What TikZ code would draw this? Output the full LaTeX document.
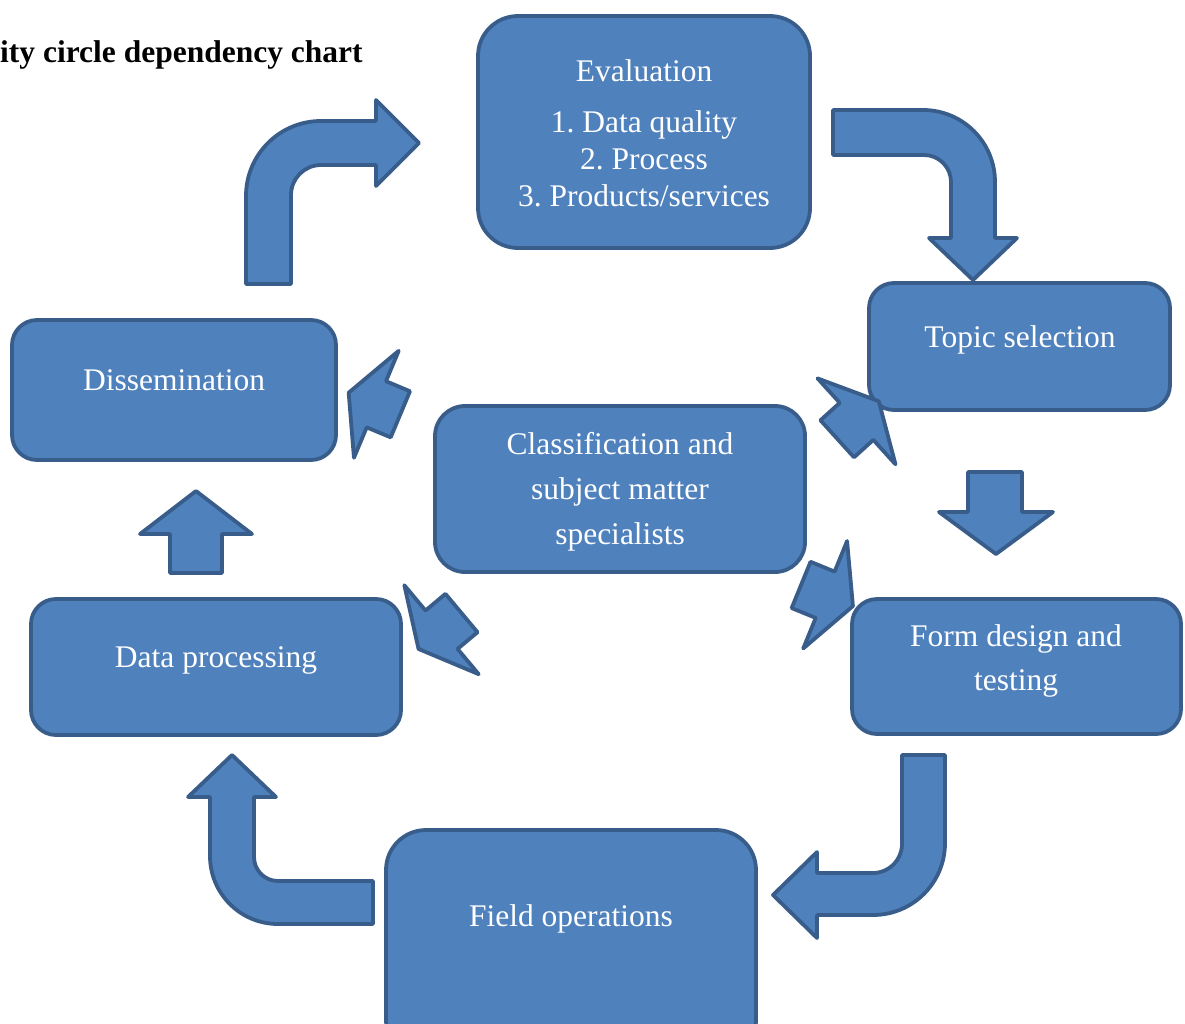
\documentclass[tikz,border=0pt]{standalone}
\usepackage{fontspec}
\setmainfont{Liberation Serif}
\frenchspacing
\definecolor{fillb}{HTML}{4F81BD}
\definecolor{edgeb}{HTML}{385D8A}
\newcommand\tiltarrow[4]{\draw[arr, shift={(#1,#2)}, rotate=#3] (-28,-25) -- (-2,-25) -- (-2,-58) -- (28,0) -- (-2,58) -- (-2,25) -- (-28,25) -- cycle;}
\begin{document}
\begin{tikzpicture}[x=1pt,y=-1pt,
  box/.style={draw=edgeb, fill=fillb, line width=3.8pt, rectangle, rounded corners=#1, inner sep=0pt},
  box/.default=25pt,
  arr/.style={draw=edgeb, fill=fillb, line width=3.8pt, line join=round},
  txt/.style={text=white, font=\fontsize{31.5}{37}\selectfont\frenchspacing, inner sep=0pt, anchor=base}]
\useasboundingbox (0,0) rectangle (1185,1023);
\clip (0,0) rectangle (1185,1023);
% title
\node[anchor=base west, inner sep=0pt, font=\fontsize{31.5}{37}\selectfont\bfseries] (title) at (0,62) {ity circle dependency chart};
% boxes
\node[box=40pt, minimum width=332pt, minimum height=232pt] (eval) at (644,132) {};
\node[box, minimum width=301pt, minimum height=127pt] (topic) at (1019.5,346.5) {};
\node[box, minimum width=324pt, minimum height=140pt] (diss) at (174,390) {};
\node[box=30pt, minimum width=370pt, minimum height=166pt] (class) at (620,489) {};
\node[box, minimum width=329pt, minimum height=135pt] (form) at (1016.5,666.5) {};
\node[box, minimum width=370pt, minimum height=136pt] (datap) at (216,667) {};
\node[box=40pt, minimum width=370pt, minimum height=230pt] (field) at (571,945) {};
% texts
\node[txt] (evalt) at (644,81) {Evaluation};
\node[txt] (evalt1) at (644,132) {1. Data quality};
\node[txt] (evalt2) at (644,169) {2. Process};
\node[txt] (evalt3) at (644,206) {3. Products/services};
\node[txt] (topict) at (1020,347) {Topic selection};
\node[txt] (disst) at (174,390) {Dissemination};
\node[txt] (classt1) at (620,454) {Classification and};
\node[txt] (classt2) at (620,499) {subject matter};
\node[txt] (classt3) at (620,544) {specialists};
\node[txt] (formt1) at (1016,646) {Form design and};
\node[txt] (formt2) at (1016,690) {testing};
\node[txt] (datapt) at (216,667) {Data processing};
\node[txt] (fieldt) at (571,926) {Field operations};
% bent arrows
\draw[arr] (246,284) -- (246,196) arc[start angle=180, end angle=270, radius=75] -- (376,121) -- (376,100) -- (419,143) -- (376,186) -- (376,165) -- (321,165) arc[start angle=270, end angle=180, radius=30] -- (291,284) -- cycle;
\draw[arr] (833,110) -- (923,110) arc[start angle=270, end angle=360, radius=72] -- (995,238) -- (1017,238) -- (973,280) -- (929,238) -- (951,238) -- (951,182) arc[start angle=0, end angle=-90, radius=27] -- (833,155) -- cycle;
\draw[arr] (902,755) -- (945,755) -- (945,843) arc[start angle=0, end angle=90, radius=72] -- (817,915) -- (817,938) -- (773,895) -- (817,852) -- (817,873) -- (873,873) arc[start angle=90, end angle=0, radius=29] -- cycle;
\draw[arr] (373,881) -- (373,924) -- (278,924) arc[start angle=90, end angle=180, radius=68] -- (210,797) -- (188,797) -- (232,755) -- (276,797) -- (254,797) -- (254,857) arc[start angle=180, end angle=90, radius=24] -- cycle;
% straight arrows
\draw[arr] (170,573) -- (170,534) -- (140,534) -- (196,491) -- (252,534) -- (222,534) -- (222,573) -- cycle;
\draw[arr] (968,472) -- (1022,472) -- (1022,512) -- (1053,512) -- (996,554) -- (939,512) -- (968,512) -- cycle;
% tilted arrows
\tiltarrow{374.5}{403.5}{157.3}{}
\tiltarrow{440}{631}{219.9}{}
\tiltarrow{858}{420}{42.2}{}
\tiltarrow{827}{595.5}{-22.2}{}
\end{tikzpicture}
\end{document}
